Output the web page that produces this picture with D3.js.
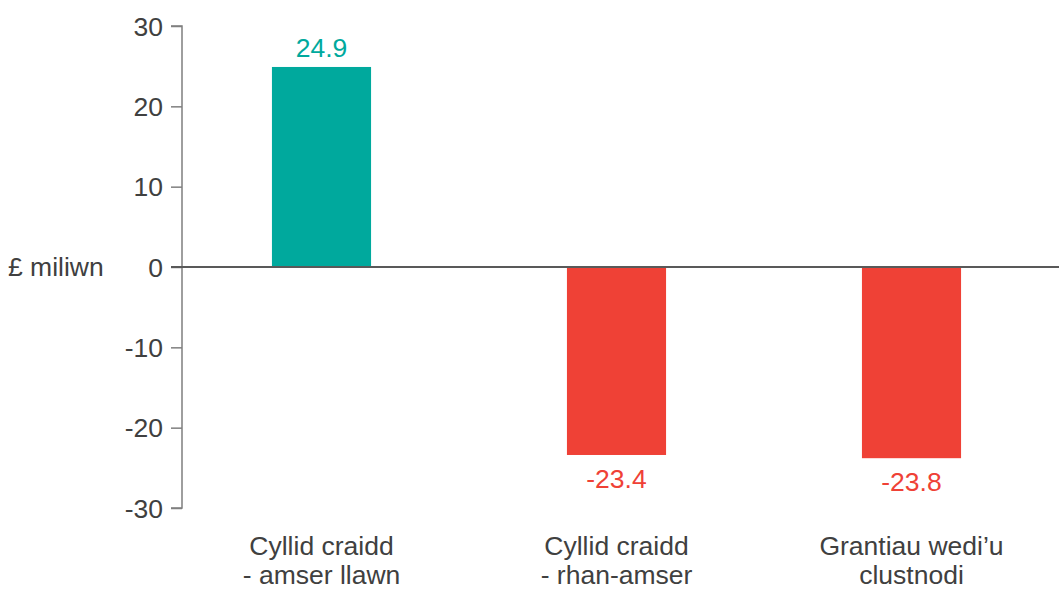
<!DOCTYPE html>
<html>
<head>
<meta charset="utf-8">
<script src="https://cdn.jsdelivr.net/npm/d3@7"></script>
<style>
    body { margin: 0; background: #fff; }
    text { font-family: "Liberation Sans", Arial, sans-serif; }
</style>
</head>
<body>
<div id="chart"></div>
<script>
(function() {
    var categories = [["Cyllid craidd", "- amser llawn"], ["Cyllid craidd", "- rhan-amser"], ["Grantiau wedi\u2019u", "clustnodi"]];
    var values = [24.9, -23.4, -23.8];
    var yTicks = [30, 20, 10, 0, -10, -20, -30];
    var yLabel = "\u00a3 miliwn";

    var width = 1059, height = 590;
    var TEAL = "#00a99d", RED = "#ef4136", TEXT = "#404040";
    var FONT = "26.5px";

    // plain hyphen for negatives, like the original
    var fmtTick = function(d) { return String(d); };
    var fmtVal = function(d) { return d.toFixed(1); };

    var svg = d3.select("#chart").append("svg")
        .attr("width", width)
        .attr("height", height);

    var xScale = d3.scaleBand()
        .domain(d3.range(values.length))
        .range([174, 1059])
        .paddingInner(0.664)
        .paddingOuter(0.332);

    var yScale = d3.scaleLinear()
        .domain([-30, 30])
        .range([508, 26]);

    // y axis
    var yAxis = svg.append("g")
        .attr("transform", "translate(182,0)")
        .call(d3.axisLeft(yScale).tickValues(yTicks).tickSize(11).tickPadding(8).tickFormat(fmtTick));

    yAxis.select(".domain").attr("stroke", "#7f7f7f").attr("stroke-width", 1.5).attr("d", "M-11," + yScale(30) + "H0V" + yScale(-30) + "H-11");
    yAxis.selectAll(".tick line").attr("stroke", "#7f7f7f").attr("stroke-width", 1.5);
    yAxis.selectAll(".tick text")
        .attr("fill", TEXT)
        .style("font-size", FONT)
        .attr("dy", "0.35em");

    svg.append("text")
        .attr("x", 8)
        .attr("y", yScale(0))
        .attr("dy", "0.35em")
        .attr("fill", TEXT)
        .style("font-size", FONT)
        .text(yLabel);

    // bars
    svg.selectAll(".bar")
        .data(values)
        .enter()
        .append("rect")
        .attr("class", "bar")
        .attr("x", function(d, i) { return xScale(i); })
        .attr("width", xScale.bandwidth())
        .attr("y", function(d) { return yScale(Math.max(0, d)); })
        .attr("height", function(d) { return Math.abs(yScale(d) - yScale(0)); })
        .attr("fill", function(d) { return d >= 0 ? TEAL : RED; });

    // zero line
    svg.append("line")
        .attr("x1", 171)
        .attr("x2", width)
        .attr("y1", yScale(0))
        .attr("y2", yScale(0))
        .attr("stroke", "#595959")
        .attr("stroke-width", 2);

    // value labels
    svg.selectAll(".value")
        .data(values)
        .enter()
        .append("text")
        .attr("class", "value")
        .attr("x", function(d, i) { return xScale(i) + xScale.bandwidth() / 2; })
        .attr("y", function(d) { return d >= 0 ? yScale(d) - 10 : yScale(d) + 33; })
        .attr("text-anchor", "middle")
        .attr("fill", function(d) { return d >= 0 ? TEAL : RED; })
        .style("font-size", FONT)
        .text(fmtVal);

    // category labels
    var cat = svg.selectAll(".cat")
        .data(categories)
        .enter()
        .append("text")
        .attr("class", "cat")
        .attr("text-anchor", "middle")
        .attr("fill", TEXT)
        .style("font-size", FONT);

    cat.selectAll("tspan")
        .data(function(d, i) { return d.map(function(s) { return {s: s, i: i}; }); })
        .enter()
        .append("tspan")
        .attr("x", function(d) { return xScale(d.i) + xScale.bandwidth() / 2; })
        .attr("y", function(d, j) { return 555 + j * 29; })
        .text(function(d) { return d.s; });
})();
</script>
</body>
</html>
